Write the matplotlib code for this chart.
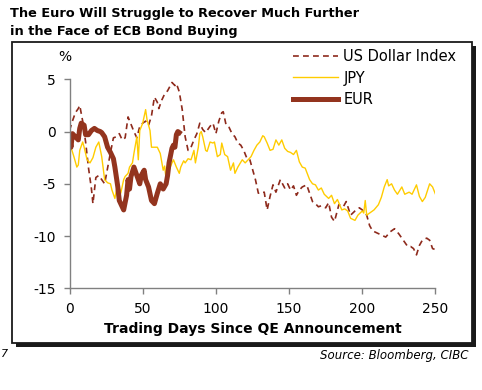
import numpy as np
import matplotlib.pyplot as plt
from matplotlib.patches import Rectangle

plt.rcParams['font.family'] = 'DejaVu Sans'
plt.rcParams['axes.unicode_minus'] = False

# Datos (dias de negociacion, % de variacion)
usd_dias = [0, 2, 4, 6, 7, 9, 11, 13, 15, 16, 18, 20, 22, 24, 26, 28, 30, 32, 34, 36,
            38, 40, 42, 44, 46, 48, 50, 52, 54, 56, 58, 60, 61, 63, 65, 67, 70, 72, 73, 75,
            77, 79, 81, 83, 85, 87, 89, 91, 93, 96, 98, 100, 102, 104, 105, 107, 109, 111, 113, 115,
            117, 119, 121, 123, 125, 127, 129, 131, 133, 135, 137, 139, 141, 144, 147, 149, 151, 153, 155, 157,
            159, 162, 164, 166, 168, 170, 172, 175, 177, 179, 181, 184, 187, 189, 192, 195, 198, 200, 203, 205,
            207, 210, 213, 216, 219, 222, 225, 227, 229, 231, 233, 235, 237, 239, 241, 244, 246, 248, 250]
usd_vals = [0.1, 1.0, 1.8, 2.2, 2.5, 1.0, -1.0, -3.5, -5.5, -6.9, -4.4, -4.2, -4.6, -5.0, -3.5, -2.0, -0.6, -0.5, -0.2, -0.8,
            -0.6, 1.4, 0.7, 0.0, -0.6, 0.5, 0.8, 1.0, 0.6, 1.5, 3.3, 2.8, 2.2, 3.0, 3.6, 3.9, 4.7, 4.4, 4.6, 3.8,
            2.1, -0.5, -1.8, -1.5, -0.8, -0.2, 0.8, 0.2, -0.1, 0.5, 0.8, -0.2, 1.0, 1.8, 1.9, 0.6, 0.4, -0.2, -0.5, -1.1,
            -1.3, -1.8, -2.5, -2.6, -3.6, -4.6, -5.9, -5.8, -5.8, -7.5, -6.2, -5.1, -5.8, -4.6, -5.4, -5.0, -5.6, -5.2, -6.1, -5.6,
            -5.3, -5.1, -5.9, -6.7, -6.9, -7.2, -7.1, -7.3, -6.8, -8.2, -8.6, -7.0, -7.2, -6.7, -8.0, -7.6, -7.3, -7.5, -8.0, -9.0,
            -9.5, -9.7, -9.9, -10.1, -9.6, -9.3, -9.8, -10.2, -10.6, -11.0, -11.0, -11.2, -11.8, -10.9, -10.4, -10.2, -10.4, -11.2, -11.3]

jpy_dias = [0, 1, 3, 5, 6, 7, 9, 10, 12, 14, 16, 18, 20, 22, 24, 26, 28, 29, 31, 33,
            35, 37, 38, 40, 41, 43, 44, 46, 47, 48, 50, 52, 53, 55, 56, 58, 60, 62, 64, 65,
            66, 68, 70, 71, 73, 75, 76, 78, 79, 81, 83, 85, 86, 88, 89, 90, 91, 93, 94, 96,
            98, 99, 101, 103, 104, 106, 108, 110, 112, 113, 115, 118, 120, 122, 124, 126, 128, 130, 132, 133,
            135, 137, 139, 141, 143, 145, 147, 149, 151, 153, 155, 157, 159, 161, 164, 166, 168, 170, 172, 174,
            177, 179, 181, 183, 186, 188, 190, 192, 195, 197, 200, 201, 202, 203, 205, 208, 211, 213, 215, 217,
            218, 220, 222, 224, 227, 229, 232, 234, 237, 239, 241, 243, 246, 248, 250]
jpy_vals = [-0.5, -1.5, -2.4, -3.4, -3.2, -1.8, -1.0, -1.5, -2.7, -3.0, -2.5, -1.5, -1.0, -2.4, -4.6, -4.9, -5.0, -5.6, -6.4, -4.9,
            -5.9, -4.6, -4.3, -4.0, -3.4, -3.0, -2.1, -0.5, -2.7, 0.1, 0.8, 2.1, 1.1, 0.1, -1.5, -1.5, -1.5, -2.1, -3.7, -3.3,
            -4.6, -3.7, -3.0, -2.7, -3.4, -4.0, -3.4, -2.8, -3.0, -2.6, -2.7, -1.8, -3.0, -1.5, -0.2, 0.0, -0.5, -1.8, -1.9, -1.0,
            -1.1, -1.0, -2.4, -2.2, -1.1, -2.2, -2.4, -3.7, -3.0, -4.0, -3.4, -2.7, -3.0, -2.7, -2.4, -1.8, -1.3, -1.0, -0.4, -0.5,
            -1.1, -1.8, -1.7, -0.8, -1.3, -0.8, -1.6, -1.9, -2.0, -2.2, -1.8, -2.9, -3.4, -3.5, -4.6, -5.0, -5.1, -5.6, -5.4, -6.0,
            -6.4, -6.1, -6.9, -6.5, -7.5, -7.4, -7.6, -8.3, -8.5, -8.0, -7.6, -7.8, -6.6, -8.0, -7.8, -7.5, -7.0, -6.3, -5.3, -4.6,
            -5.2, -5.0, -5.6, -6.0, -5.3, -6.0, -5.8, -6.0, -5.1, -6.2, -6.7, -6.3, -5.0, -5.3, -6.0]

eur_dias = [0, 1, 2, 4, 6, 7, 8, 10, 11, 13, 15, 17, 19, 21, 22, 24, 26, 28, 30, 31,
            33, 34, 36, 37, 39, 40, 41, 42, 44, 46, 48, 49, 51, 52, 54, 56, 58, 60, 62, 64,
            66, 67, 68, 70, 71, 72, 73, 74, 75]
eur_vals = [-0.5, -1.5, -0.2, -0.5, -0.8, 0.3, 0.8, 0.6, -0.3, -0.3, 0.1, 0.3, 0.1, 0.0, -0.1, -0.5, -1.5, -2.0, -2.6, -3.4,
            -5.3, -6.6, -7.2, -7.5, -6.1, -4.6, -5.5, -4.3, -3.4, -4.2, -5.0, -4.2, -3.7, -4.6, -5.3, -6.6, -6.9, -5.9, -5.0, -5.5,
            -5.0, -4.2, -3.0, -1.6, -1.3, -1.5, -0.3, 0.0, -0.1]

fig = plt.figure(figsize=(4.82, 3.90), dpi=100)

# marco con sombra
fig.patches.append(Rectangle((16/482, 1-347/390), 460/482, 301/390, transform=fig.transFigure,
                             facecolor='#1a1a1a', edgecolor='none', zorder=0))
fig.patches.append(Rectangle((12/482, 1-343/390), 460/482, 301/390, transform=fig.transFigure,
                             facecolor='white', edgecolor='#1a1a1a', linewidth=1.3, zorder=1))

ax = fig.add_axes([69.5/482, 1-288.3/390, 366/482, 209/390])
ax.set_zorder(3)
ax.patch.set_alpha(0)

ax.plot(usd_dias, usd_vals, color='#8e2a1c', lw=1.2, dashes=(3.5, 2.5), label='US Dollar Index')
ax.plot(jpy_dias, jpy_vals, color='#ffcc00', lw=1.0, label='JPY')
ax.plot(eur_dias, eur_vals, color='#93341e', lw=3.6, label='EUR')

ax.set_xlim(0, 250)
ax.set_ylim(-15, 5)
ax.set_xticks([0, 50, 100, 150, 200, 250])
ax.set_yticks([-15, -10, -5, 0, 5])
for s in ['top', 'right']:
    ax.spines[s].set_visible(False)
for s in ['left', 'bottom']:
    ax.spines[s].set_color('#808080')
    ax.spines[s].set_linewidth(1.0)
ax.tick_params(colors='#808080', labelcolor='black', labelsize=10, length=4, width=1, pad=6)
ax.set_xlabel('Trading Days Since QE Announcement', fontsize=10, fontweight='bold', labelpad=4)

fig.text(65/482, 1-57/390, '%', fontsize=10, ha='center', va='center', zorder=4)

leg = fig.legend(loc='upper left', bbox_to_anchor=(293/482, 1-49/390), frameon=False,
                 fontsize=10.5, handlelength=3.1, handletextpad=0.35, labelspacing=0.45,
                 borderpad=0, borderaxespad=0)
leg.set_zorder(4)

fig.text(10/482, 1-13/390, 'The Euro Will Struggle to Recover Much Further', fontsize=9.3,
         fontweight='bold', ha='left', va='center')
fig.text(10/482, 1-31/390, 'in the Face of ECB Bond Buying', fontsize=9.3,
         fontweight='bold', ha='left', va='center')
fig.text(469/482, 1-355/390, 'Source: Bloomberg, CIBC', fontsize=8.5, style='italic',
         ha='right', va='center')
fig.text(0.5/482, 1-354/390, '7', fontsize=8, style='italic', ha='left', va='center')

fig.savefig('out.png', dpi=100)
